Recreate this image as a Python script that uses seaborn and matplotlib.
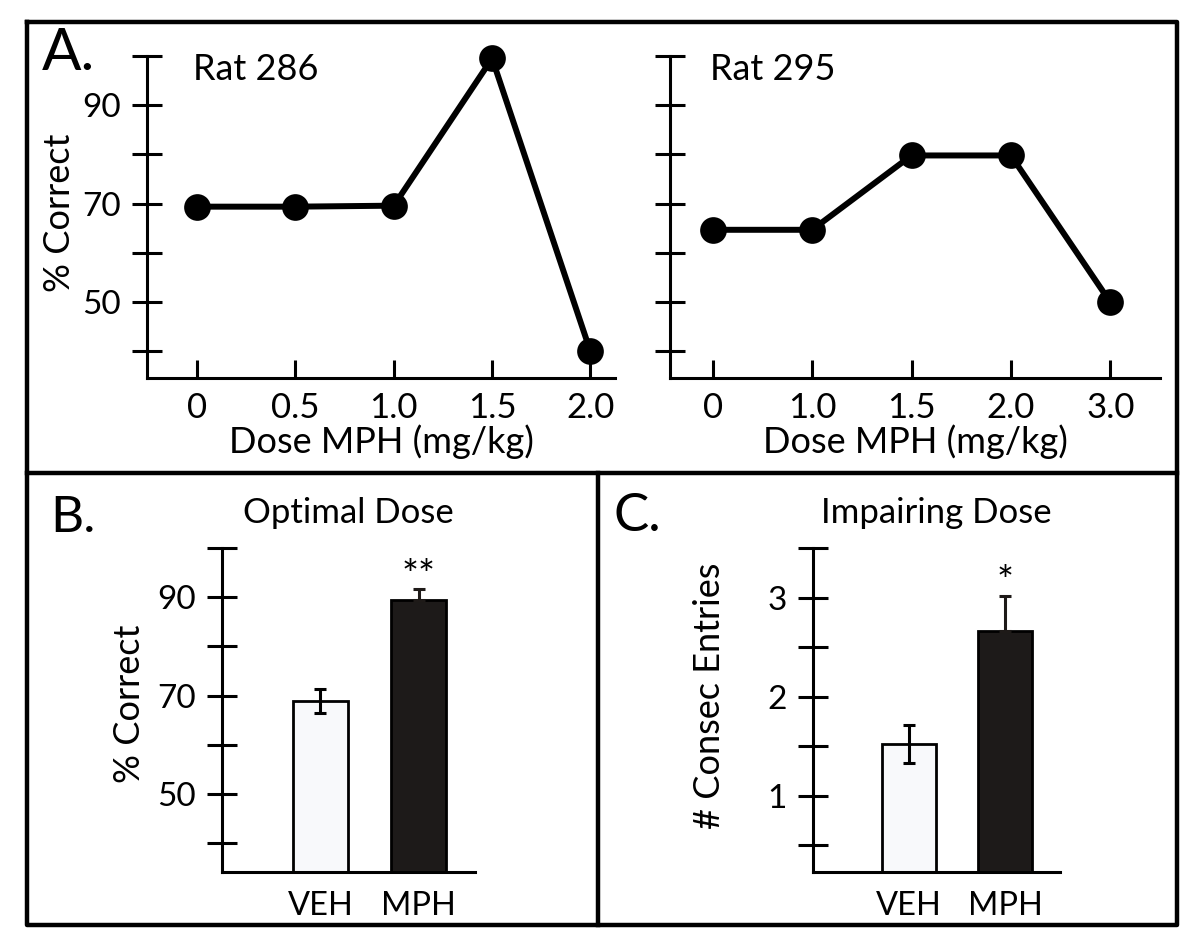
import matplotlib
matplotlib.use('Agg')
import matplotlib.pyplot as plt
import seaborn as sns
from matplotlib.lines import Line2D

# panel A, single-rat dose curves
rat286_dose = ['0', '0.5', '1.0', '1.5', '2.0']
rat286_correct = [69.4, 69.4, 69.6, 99.5, 40.0]
rat295_dose = ['0', '1.0', '1.5', '2.0', '3.0']
rat295_correct = [64.7, 64.7, 79.8, 79.8, 50.0]

# panels B and C, group means +/- sem
groups = ['VEH', 'MPH']
optimal_mean = [68.9, 89.5]
optimal_sem = [2.5, 2.1]
impairing_mean = [1.52, 2.66]
impairing_sem = [0.19, 0.36]
bar_colors = ['#f7f9fc', '#1e1a18']

sns.set_style('ticks')
plt.rcParams['font.family'] = ['Lato', 'DejaVu Sans']
plt.rcParams['text.color'] = 'black'
plt.rcParams['axes.labelcolor'] = 'black'
plt.rcParams['xtick.color'] = 'black'
plt.rcParams['ytick.color'] = 'black'

TICK_FS = 24
LABEL_FS = 25
W, H = 1200, 947
fig = plt.figure(figsize=(12, 9.47), dpi=100)


def px_axes(x0, y0, x1, y1):
    # axes box from pixel corners (top-left origin)
    return fig.add_axes([x0 / W, 1 - y1 / H, (x1 - x0) / W, (y1 - y0) / H])


def style_axes(ax):
    sns.despine(ax=ax)
    for s in ['left', 'bottom']:
        ax.spines[s].set_linewidth(2.2)
        ax.spines[s].set_color('black')
    ax.tick_params(axis='y', direction='inout', length=22, width=2.2,
                   labelsize=TICK_FS, pad=8)
    ax.set_facecolor('none')


def line_panel(ax, doses, values, title, title_x, show_labels):
    sns.pointplot(x=doses, y=values, order=doses, color='black', ax=ax,
                  markersize=16, linewidth=4.3, markers='o')
    # the 1.5 mg/kg point sits on the top edge, don't cut it
    for art in ax.lines + ax.collections:
        art.set_clip_on(False)
    style_axes(ax)
    ax.set_ylim(34.6, 100)
    ax.set_yticks(range(40, 101, 10))
    if show_labels:
        ax.set_yticklabels(['', '50', '', '70', '', '90', ''])
        ax.set_ylabel('% Correct', fontsize=26)
        ax.yaxis.set_label_coords(-0.152, 0.512)
    else:
        ax.set_yticklabels([''] * 7)
        ax.set_ylabel('')
    ax.tick_params(axis='x', direction='in', length=13, width=2.2,
                   labelsize=25, pad=10)
    ax.set_xlabel('Dose MPH (mg/kg)', fontsize=26, labelpad=0)
    ax.text(title_x, 0.957, title, transform=ax.transAxes, fontsize=26,
            va='center', ha='left')


def bar_panel(ax, means, sems, ylim, yticks, ylabels, ylabel, ylab_xy,
              star, star_y, title):
    sns.barplot(x=groups, y=means, order=groups, hue=groups,
                palette=bar_colors, edgecolor='black', linewidth=2,
                width=0.56, legend=False, ax=ax)
    # VEH gets a full bar, MPH only the upper half (lower one hides in the bar)
    ax.errorbar([0], means[:1], yerr=sems[:1], fmt='none', ecolor='black',
                elinewidth=2.2, capsize=4.5, capthick=2.2, zorder=5)
    ax.errorbar([1], means[1:], yerr=[[0], sems[1:]], fmt='none',
                ecolor='#1e1a18', elinewidth=2.2, capsize=4.5, capthick=2.2,
                zorder=5)
    style_axes(ax)
    ax.set_ylim(*ylim)
    ax.set_yticks(yticks)
    ax.set_yticklabels(ylabels)
    ax.set_xlim(-1.0, 1.57)
    ax.tick_params(axis='x', length=0, labelsize=23.5, pad=14)
    ax.set_xlabel('')
    ax.set_ylabel(ylabel, fontsize=26)
    ax.yaxis.set_label_coords(*ylab_xy)
    ax.text(1, star_y, star, ha='center', va='center', fontsize=29)
    ax.set_title(title, fontsize=LABEL_FS, pad=18)


axA1 = px_axes(147, 56, 615, 378)
line_panel(axA1, rat286_dose, rat286_correct, 'Rat 286', 0.098, True)
axA1.set_xlim(-0.51, 4.25)

axA2 = px_axes(670, 56, 1160, 378)
line_panel(axA2, rat295_dose, rat295_correct, 'Rat 295', 0.082, False)
axA2.set_xlim(-0.43, 4.5)

axB = px_axes(222, 548, 475, 872)
bar_panel(axB, optimal_mean, optimal_sem, (34.2, 100), range(40, 101, 10),
          ['', '50', '', '70', '', '90', ''], '% Correct', (-0.30, 0.52),
          '**', 94.0, 'Optimal Dose')

axC = px_axes(813, 548, 1060, 872)
bar_panel(axC, impairing_mean, impairing_sem, (0.23, 3.5),
          [0.5, 1, 1.5, 2, 2.5, 3, 3.5], ['', '1', '', '2', '', '3', ''],
          '# Consec Entries', (-0.352, 0.545), '*', 3.14, 'Impairing Dose')

# panel frames
def fig_line(xs, ys, lw=3.2):
    fig.add_artist(Line2D([x / W for x in xs], [1 - y / H for y in ys],
                          color='black', lw=lw, solid_capstyle='projecting'))

fig_line([27, 1177, 1177, 27, 27], [22, 22, 925, 925, 22])
fig_line([27, 1177], [473, 473])
fig_line([598, 598], [473, 925])

fig.text(42 / W, 1 - 53 / H, 'A.', fontsize=42, va='center', ha='left')
fig.text(50 / W, 1 - 518 / H, 'B.', fontsize=37, va='center', ha='left')
fig.text(613 / W, 1 - 516 / H, 'C.', fontsize=38, va='center', ha='left')

fig.savefig('out.png', dpi=100, facecolor='white')
